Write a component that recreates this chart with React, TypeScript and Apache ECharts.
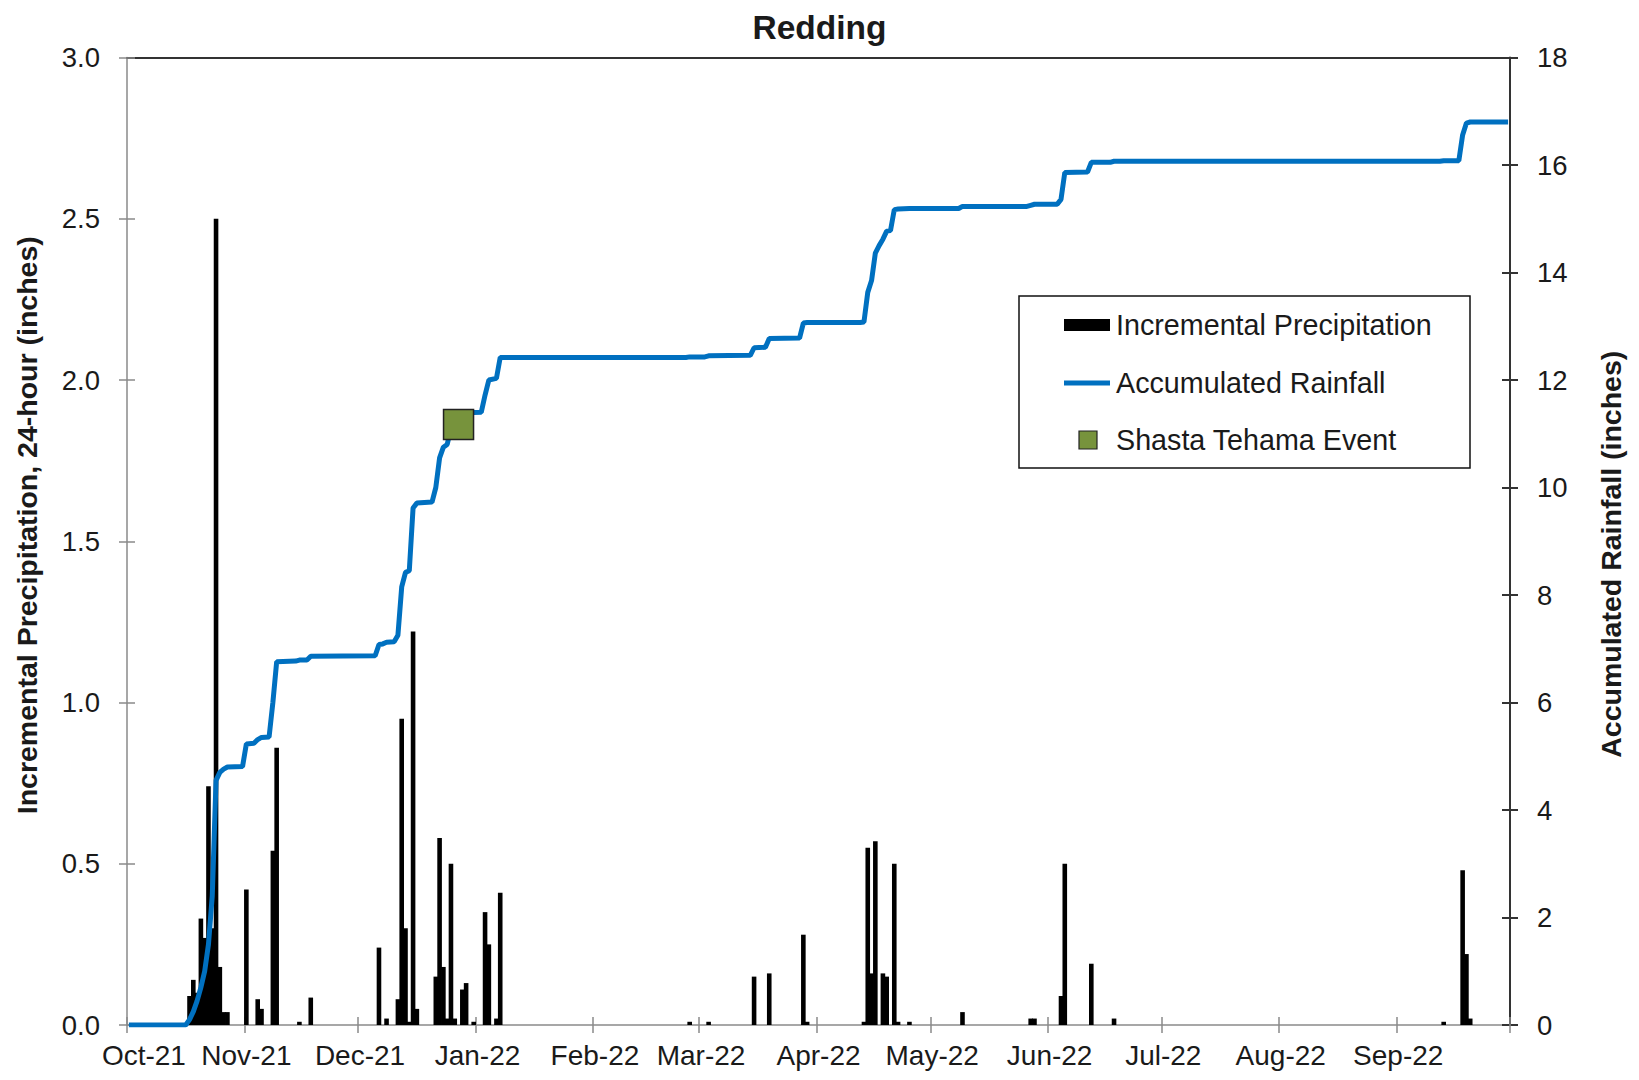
import React, { useEffect, useRef } from "react";
import * as echarts from "echarts";

// ---- Data ----
const startDate = "2021-10-01";
const endDate = "2022-09-30";

// Incremental precipitation, 24-hour (inches)
const rainDates = [
  "2021-10-17", "2021-10-18", "2021-10-19", "2021-10-20", "2021-10-21", "2021-10-22",
  "2021-10-23", "2021-10-24", "2021-10-25", "2021-10-26", "2021-10-27",
  "2021-11-01", "2021-11-04", "2021-11-05", "2021-11-08", "2021-11-09", "2021-11-15", "2021-11-18",
  "2021-12-06", "2021-12-08", "2021-12-11", "2021-12-12", "2021-12-13", "2021-12-14", "2021-12-15",
  "2021-12-16", "2021-12-21", "2021-12-22", "2021-12-23", "2021-12-24", "2021-12-25", "2021-12-26",
  "2021-12-28", "2021-12-29", "2021-12-31",
  "2022-01-03", "2022-01-04", "2022-01-06", "2022-01-07",
  "2022-02-26", "2022-03-03", "2022-03-15", "2022-03-19", "2022-03-28", "2022-03-29",
  "2022-04-13", "2022-04-14", "2022-04-15", "2022-04-16", "2022-04-18", "2022-04-19",
  "2022-04-21", "2022-04-22", "2022-04-25",
  "2022-05-09", "2022-05-27", "2022-05-28",
  "2022-06-04", "2022-06-05", "2022-06-12", "2022-06-18",
  "2022-09-13", "2022-09-18", "2022-09-19", "2022-09-20",
];
const rainValues = [
  0.09, 0.14, 0.1, 0.33, 0.27, 0.74,
  0.3, 2.5, 0.18, 0.04, 0.04,
  0.42, 0.08, 0.05, 0.54, 0.86, 0.01, 0.085,
  0.24, 0.02, 0.08, 0.95, 0.3, 0.01, 1.22,
  0.05, 0.15, 0.58, 0.18, 0.02, 0.5, 0.02,
  0.11, 0.13, 0.01,
  0.35, 0.25, 0.02, 0.41,
  0.01, 0.01, 0.15, 0.16, 0.28, 0.01,
  0.01, 0.55, 0.16, 0.57, 0.16, 0.15,
  0.5, 0.01, 0.01,
  0.04, 0.02, 0.02,
  0.09, 0.5, 0.19, 0.02,
  0.01, 0.48, 0.22, 0.02,
];

// Accumulated rainfall (inches), read at the turning points of the curve
const accumDates = [
  "2021-10-01", "2021-10-16", "2021-10-17", "2021-10-18", "2021-10-19", "2021-10-20",
  "2021-10-21", "2021-10-22", "2021-10-23", "2021-10-24", "2021-10-25", "2021-10-26",
  "2021-10-27", "2021-10-31", "2021-11-01", "2021-11-03", "2021-11-04", "2021-11-05",
  "2021-11-07", "2021-11-08", "2021-11-09", "2021-11-14", "2021-11-15", "2021-11-17",
  "2021-11-18", "2021-12-05", "2021-12-06", "2021-12-07", "2021-12-08", "2021-12-10",
  "2021-12-11", "2021-12-12", "2021-12-13", "2021-12-14", "2021-12-15", "2021-12-16",
  "2021-12-20", "2021-12-21", "2021-12-22", "2021-12-23", "2021-12-24", "2021-12-25",
  "2021-12-26", "2021-12-27", "2021-12-28", "2021-12-29", "2022-01-02", "2022-01-03",
  "2022-01-04", "2022-01-06", "2022-01-07", "2022-02-25", "2022-02-26", "2022-03-02",
  "2022-03-03", "2022-03-14", "2022-03-15", "2022-03-18", "2022-03-19", "2022-03-27",
  "2022-03-28", "2022-03-29", "2022-04-12", "2022-04-13", "2022-04-14", "2022-04-15",
  "2022-04-16", "2022-04-17", "2022-04-18", "2022-04-19", "2022-04-20", "2022-04-21",
  "2022-04-22", "2022-04-25", "2022-05-08", "2022-05-09", "2022-05-26", "2022-05-27",
  "2022-05-28", "2022-06-03", "2022-06-04", "2022-06-05", "2022-06-11", "2022-06-12",
  "2022-06-17", "2022-06-18", "2022-09-12", "2022-09-13", "2022-09-17", "2022-09-18",
  "2022-09-19", "2022-09-20", "2022-09-30",
];
const accumValues = [
  0, 0, 0.1, 0.25, 0.45, 0.7,
  1.0, 1.5, 2.4, 4.55, 4.7, 4.76,
  4.8, 4.81, 5.23, 5.24, 5.31, 5.35,
  5.36, 6.0, 6.76, 6.77, 6.79, 6.79,
  6.86, 6.87, 7.08, 7.09, 7.12, 7.13,
  7.25, 8.15, 8.42, 8.45, 9.62, 9.71,
  9.73, 10.0, 10.55, 10.75, 10.8, 11.1,
  11.15, 11.17, 11.28, 11.39, 11.4, 11.72,
  12.0, 12.03, 12.42, 12.42, 12.43, 12.43,
  12.45, 12.46, 12.6, 12.61, 12.77, 12.78,
  13.06, 13.07, 13.07, 13.08, 13.63, 13.85,
  14.36, 14.5, 14.62, 14.77, 14.78, 15.17,
  15.18, 15.19, 15.19, 15.23, 15.23, 15.25,
  15.27, 15.27, 15.36, 15.86, 15.87, 16.05,
  16.05, 16.07, 16.07, 16.08, 16.08, 16.56,
  16.78, 16.8, 16.8,
];

// Shasta Tehama event marker
const eventDates = ["2021-12-27"];
const eventValues = [11.17];

const leftTicks = { min: 0, max: 3, interval: 0.5 };
const rightTicks = { min: 0, max: 18, interval: 2 };
const monthNames = ["Jan", "Feb", "Mar", "Apr", "May", "Jun", "Jul", "Aug", "Sep", "Oct", "Nov", "Dec"];

const FONT = "'Liberation Sans', Arial, Helvetica, sans-serif";
const TEXT = "#1a1a1a";
const GRAY_AXIS = "#8a8a8a";
const DARK_AXIS = "#333333";
const BLUE = "#0070C0";
const GREEN = "#77933C";

function buildDays(): string[] {
  const out: string[] = [];
  const d = new Date(startDate + "T00:00:00Z");
  const end = new Date(endDate + "T00:00:00Z");
  while (d.getTime() <= end.getTime()) {
    out.push(d.toISOString().slice(0, 10));
    d.setUTCDate(d.getUTCDate() + 1);
  }
  return out;
}

export default function App() {
  const ref = useRef<HTMLDivElement>(null);

  useEffect(() => {
    if (!ref.current) return;
    const chart = echarts.init(ref.current, undefined, { renderer: "svg" });
    const days = buildDays();
    const isMonthStart = (_i: number, v: string) => typeof v === "string" && v.slice(8, 10) === "01";
    const monthLabel = (v: string) => {
      const m = parseInt(v.slice(5, 7), 10) - 1;
      const txt = monthNames[m] + "-" + v.slice(2, 4);
      return v === startDate ? "{first|" + txt + "}" : txt;
    };

    const barData = rainDates.map((d, i) => [d, rainValues[i]]);
    const lineData = accumDates.map((d, i) => [d, accumValues[i]]);
    const eventData = eventDates.map((d, i) => [d, eventValues[i]]);

    const legendX = 1019;
    const legendY = 296;
    const rows = [325, 383, 440];

    chart.setOption({
      animation: false,
      backgroundColor: "#ffffff",
      title: {
        text: "Redding",
        left: "center",
        top: 5,
        textStyle: { fontFamily: FONT, fontSize: 33.5, fontWeight: "bold", color: TEXT },
      },
      grid: { left: 127, right: 129, top: 57.5, bottom: 55, containLabel: false },
      xAxis: [
        {
          type: "category",
          data: days,
          position: "bottom",
          boundaryGap: true,
          axisLine: { show: true, onZero: false, lineStyle: { color: GRAY_AXIS, width: 1.5 } },
          axisTick: { show: true, interval: isMonthStart, length: 8, lineStyle: { color: GRAY_AXIS, width: 1.5 } },
          axisLabel: {
            show: true,
            interval: isMonthStart,
            formatter: monthLabel,
            margin: 16,
            fontFamily: FONT,
            fontSize: 28,
            color: TEXT,
            rich: {
              first: { padding: [0, 0, 0, 30], fontFamily: FONT, fontSize: 28, color: TEXT },
            },
          },
          splitLine: { show: false },
        },
        {
          type: "category",
          data: days,
          position: "bottom",
          boundaryGap: true,
          axisLine: { show: false, onZero: false },
          axisTick: { show: true, inside: true, interval: isMonthStart, length: 8, lineStyle: { color: GRAY_AXIS, width: 1.5 } },
          axisLabel: { show: false },
          splitLine: { show: false },
        },
        {
          type: "category",
          data: days,
          position: "top",
          axisLine: { show: true, onZero: false, lineStyle: { color: DARK_AXIS, width: 2 } },
          axisTick: { show: false },
          axisLabel: { show: false },
          splitLine: { show: false },
        },
      ],
      yAxis: [
        {
          type: "value",
          position: "left",
          ...leftTicks,
          name: "Incremental Precipitation, 24-hour (inches)",
          nameLocation: "middle",
          nameRotate: 90,
          nameGap: 86,
          nameTextStyle: { fontFamily: FONT, fontSize: 28.5, fontWeight: "bold", color: TEXT, padding: [0, 0, 0, 32] },
          axisLine: { show: true, onZero: false, lineStyle: { color: GRAY_AXIS, width: 1.5 } },
          axisTick: { show: true, length: 8, lineStyle: { color: GRAY_AXIS, width: 1.5 } },
          axisLabel: { formatter: (v: number) => v.toFixed(1), margin: 27, fontFamily: FONT, fontSize: 27.5, color: TEXT },
          splitLine: { show: false },
        },
        {
          type: "value",
          position: "right",
          ...rightTicks,
          name: "Accumulated Rainfall (inches)",
          nameLocation: "middle",
          nameRotate: 90,
          nameGap: 86,
          nameTextStyle: { fontFamily: FONT, fontSize: 28.5, fontWeight: "bold", color: TEXT, padding: [0, 26, 0, 0] },
          axisLine: { show: true, onZero: false, lineStyle: { color: DARK_AXIS, width: 2 } },
          axisTick: { show: true, length: 8, lineStyle: { color: DARK_AXIS, width: 2 } },
          axisLabel: { margin: 27, fontFamily: FONT, fontSize: 27.5, color: TEXT },
          splitLine: { show: false },
        },
        {
          type: "value",
          position: "left",
          ...leftTicks,
          axisLine: { show: false },
          axisTick: { show: true, inside: true, length: 8, lineStyle: { color: GRAY_AXIS, width: 1.5 } },
          axisLabel: { show: false },
          splitLine: { show: false },
        },
        {
          type: "value",
          position: "right",
          ...rightTicks,
          axisLine: { show: false },
          axisTick: { show: true, inside: true, length: 8, lineStyle: { color: DARK_AXIS, width: 2 } },
          axisLabel: { show: false },
          splitLine: { show: false },
        },
      ],
      series: [
        {
          name: "Incremental Precipitation",
          type: "bar",
          xAxisIndex: 0,
          yAxisIndex: 0,
          data: barData,
          barWidth: 4.6,
          barGap: "0%",
          itemStyle: { color: "#000000" },
          z: 2,
        },
        {
          name: "Accumulated Rainfall",
          type: "line",
          xAxisIndex: 0,
          yAxisIndex: 1,
          data: lineData,
          showSymbol: false,
          symbol: "none",
          lineStyle: { color: BLUE, width: 5 },
          itemStyle: { color: BLUE },
          z: 3,
        },
        {
          name: "Shasta Tehama Event",
          type: "scatter",
          xAxisIndex: 0,
          yAxisIndex: 1,
          data: eventData,
          symbol: "rect",
          symbolSize: 30,
          itemStyle: { color: GREEN, borderColor: "#222222", borderWidth: 1.5, opacity: 1 },
          z: 4,
        },
      ],
      graphic: [
        {
          type: "group",
          z: 100,
          children: [
            {
              type: "rect",
              shape: { x: legendX, y: legendY, width: 451, height: 172 },
              style: { fill: "#ffffff", stroke: "#111111", lineWidth: 1.5 },
            },
            {
              type: "rect",
              shape: { x: 1064, y: rows[0] - 6, width: 46, height: 12 },
              style: { fill: "#000000" },
            },
            {
              type: "text",
              x: 1116,
              y: rows[0],
              style: { text: "Incremental Precipitation", fontFamily: FONT, fontSize: 28.7, fill: TEXT, verticalAlign: "middle" },
            },
            {
              type: "line",
              shape: { x1: 1064, y1: rows[1], x2: 1110, y2: rows[1] },
              style: { stroke: BLUE, lineWidth: 5 },
            },
            {
              type: "text",
              x: 1116,
              y: rows[1],
              style: { text: "Accumulated Rainfall", fontFamily: FONT, fontSize: 28.7, fill: TEXT, verticalAlign: "middle" },
            },
            {
              type: "rect",
              shape: { x: 1079, y: rows[2] - 9, width: 18, height: 18 },
              style: { fill: GREEN, stroke: "#222222", lineWidth: 1.2 },
            },
            {
              type: "text",
              x: 1116,
              y: rows[2],
              style: { text: "Shasta Tehama Event", fontFamily: FONT, fontSize: 28.7, fill: TEXT, verticalAlign: "middle" },
            },
          ],
        },
      ],
    });

    return () => {
      chart.dispose();
    };
  }, []);

  return (
    <div
      ref={ref}
      style={{ position: "absolute", left: 0, top: 0, width: 1639, height: 1080, background: "#fff" }}
    />
  );
}
